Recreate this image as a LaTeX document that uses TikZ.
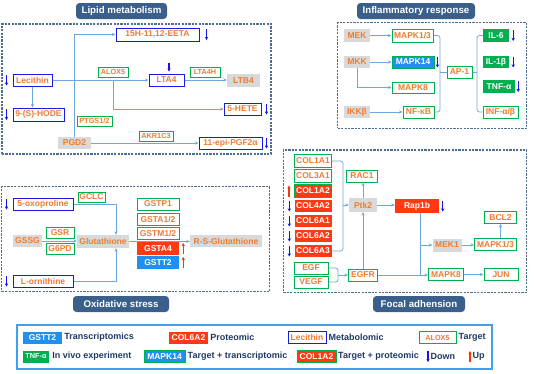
\documentclass[tikz,border=0pt]{standalone}
\usepackage{fontspec}
\setmainfont{Liberation Sans}
\usetikzlibrary{arrows.meta,calc}
\definecolor{orn}{HTML}{ED7D31}
\definecolor{grn}{HTML}{00B050}
\definecolor{blu}{HTML}{1A1AE6}
\definecolor{redf}{HTML}{FF3A12}
\definecolor{bluf}{HTML}{1E90F0}
\definecolor{gryf}{HTML}{D9D9D9}
\definecolor{ttlc}{HTML}{3A5F8A}
\definecolor{dashc}{HTML}{4E6E90}
\definecolor{conc}{HTML}{6FA8DC}
\definecolor{lgt}{HTML}{1F3864}
\definecolor{lgb}{HTML}{3DA0F0}
\definecolor{dnc}{HTML}{1414F0}
\definecolor{upc}{HTML}{FF3300}
\newcommand{\mynf}{\fontsize{8.5}{9}\selectfont\bfseries}
\newcommand{\mysmall}{\fontsize{7.3}{8}\selectfont\bfseries}
\newcommand{\myttl}{\fontsize{9.7}{10}\selectfont\bfseries}
\newcommand{\mylg}{\fontsize{9}{10}\selectfont\bfseries}
\tikzset{
  wh/.style 2 args={minimum width=#1pt,minimum height=#2pt},
  nd/.style={inner sep=0pt, font=\mynf, text=orn, align=center},
  tgt/.style={nd, draw=grn, line width=1pt, fill=white},
  met/.style={nd, draw=blu, line width=1pt, fill=white},
  gry/.style={nd, fill=gryf},
  prot/.style={nd, fill=redf, text=white},
  trn/.style={nd, fill=bluf, text=white},
  viv/.style={nd, fill=grn, text=white},
  tgtr/.style={prot, draw=grn, line width=1pt},
  tgtb/.style={trn, draw=grn, line width=1pt},
  ttlbox/.style={inner sep=0pt, fill=ttlc, text=white, font=\myttl, rounded corners=3.5pt},
  grp/.style={draw=dashc, line width=1.1pt, dash pattern=on 2.2pt off 1.2pt, inner sep=0pt},
  ln/.style={draw=conc, line width=0.8pt},
  con/.style={ln, -{Stealth[length=3.5pt,width=3.2pt]}},
  dnm/.style={draw=dnc, line width=1.1pt, -{Stealth[length=3.2pt,width=3.4pt]}},
  upm/.style={draw=upc, line width=1.1pt, -{Stealth[length=3.2pt,width=3.4pt]}},
  lgtxt/.style={inner sep=0pt, font=\mylg, text=lgt, anchor=west}
}
\begin{document}
\begin{tikzpicture}[x=1pt,y=-1pt]
\useasboundingbox (0,0) rectangle (536,373);

% ---------------- Lipid metabolism
\node[ttlbox, wh={91}{16}] (t1) at (121.5,11) {Lipid metabolism};
\node[grp, wh={269}{130}] (g1) at (136.5,89) {};
\node[met, wh={83}{13}] (eeta) at (157.5,34.5) {15H-11,12-EETA};
\node[met, wh={39}{12}] (lec) at (32.5,80) {Lecithin};
\node[tgt, font=\mysmall, wh={30}{10}] (alox5) at (113,72) {ALOX5};
\node[met, wh={35}{12}] (lta4) at (166.5,80) {LTA4};
\node[tgt, font=\mysmall, wh={30}{10}] (lta4h) at (205,72) {LTA4H};
\node[gry, wh={33}{13}] (ltb4) at (243.5,80.5) {LTB4};
\node[met, wh={51}{13}] (hode) at (38.5,114.5) {9-(S)-HODE};
\node[tgt, font=\mysmall, wh={35}{10}] (ptgs) at (94.5,121) {PTGS1/2};
\node[met, wh={37}{12}] (hete) at (242.5,109) {5-HETE};
\node[tgt, font=\mysmall, wh={34}{10}] (akr) at (156,136) {AKR1C3};
\node[gry, wh={33}{12}] (pgd2) at (74.5,143) {PGD2};
\node[met, wh={63}{12}] (pgf) at (230.5,143) {11-epi-PGF2α};

\draw[con] (pgd2.north) |- (eeta.west);
\draw[con] (lec.east) -- (lta4.west);
\draw[con] (lec.south) -- (lec.south |- hode.north);
\coordinate (lb) at (113,80);
\draw[con] (lb) |- (hete.west);
\draw[con] (lta4.east) -- (lta4.east -| ltb4.west);
\draw[con] (pgd2.east) -- (pgf.west);

\draw[dnm] ([xshift=7pt,yshift=5.5pt]eeta.east) -- ++(0,11);
\draw[dnm] ([xshift=-6pt,yshift=5.5pt]lec.west) -- ++(0,11);
\draw[dnm] ([xshift=-6pt,yshift=5.5pt]hode.west) -- ++(0,11);
\draw[dnm] ([xshift=2.5pt,yshift=11pt]lta4.north) -- ++(0,9);
\draw[dnm] ([xshift=5pt,yshift=5.5pt]hete.east) -- ++(0,11);
\draw[dnm] ([xshift=4pt,yshift=5.5pt]pgf.east) -- ++(0,11);

% ---------------- Inflammatory response
\node[ttlbox, wh={118}{16}] (t2) at (416,11) {Inflammatory response};
\node[grp, wh={189}{105.6}] (g2) at (432.2,75.5) {};
\node[gry, wh={26}{13}] (mek) at (357,35.5) {MEK};
\node[tgt, wh={41}{13}] (mapk13) at (412.5,35.5) {MAPK1/3};
\node[gry, wh={26}{12}] (mkk) at (357,62) {MKK};
\node[tgtb, wh={42}{12}] (mapk14) at (413,62) {MAPK14};
\node[tgt, wh={42}{11}] (mapk8) at (413,87.5) {MAPK8};
\node[gry, wh={26}{12}] (ikk) at (357,112) {IKKβ};
\node[tgt, wh={31}{12}] (nfkb) at (418.5,112) {NF-κB};
\node[tgt, wh={25}{12}] (ap1) at (459.5,72) {AP-1};
\node[viv, wh={26}{13}] (il6) at (496,35.5) {IL-6};
\node[viv, wh={26}{12}] (il1b) at (496,62) {IL-1β};
\node[viv, wh={32}{13}] (tnfa) at (499,86.5) {TNF-α};
\node[tgt, wh={35}{12}] (infab) at (500.5,112) {INF-α/β};

\draw[con] (mek.east) -- (mapk13.west);
\draw[con] (mkk.east) -- (mapk14.west);
\draw[con] (mkk.south) |- (mapk8.west);
\draw[con] (ikk.east) -- (nfkb.west);
\coordinate (b1) at (440,72);
\coordinate (b2) at (477,72);
\draw[ln, rounded corners=2.5pt] (mapk13.east) -| (b1) |- (nfkb.east);
\draw[ln] (b1) -- (ap1.west);
\draw[ln, rounded corners=2.5pt] (il6.west) -| (b2) |- (infab.west);
\draw[ln] (ap1.east) -- (b2);

\draw[dnm] ([xshift=3pt,yshift=5.5pt]mapk14.east) -- ++(0,11);
\draw[dnm] ([xshift=4pt,yshift=5.5pt]il6.east) -- ++(0,11);
\draw[dnm] ([xshift=4pt,yshift=5.5pt]il1b.east) -- ++(0,11);
\draw[dnm] ([xshift=3pt,yshift=5.5pt]tnfa.east) -- ++(0,11);

% ---------------- Oxidative stress
\node[ttlbox, wh={96}{16}] (t3) at (121,304) {Oxidative stress};
\node[grp, wh={267.6}{105}] (g3) at (135.5,239.2) {};
\node[met, wh={60}{12}] (oxo) at (43,204) {5-oxoproline};
\node[tgt, wh={27}{10}] (gclc) at (91.5,197) {GCLC};
\node[gry, wh={29}{12}] (gssg) at (27.5,241) {GSSG};
\node[tgt, wh={28}{11}] (gsr) at (60,232.5) {GSR};
\node[tgt, wh={28}{11}] (g6pd) at (60,248.5) {G6PD};
\node[gry, wh={52}{13}] (glu) at (103,241.5) {Glutathione};
\node[tgt, wh={42}{12}] (gstp1) at (158,204) {GSTP1};
\node[tgt, wh={42}{12}] (gsta12) at (158,219) {GSTA1/2};
\node[tgt, wh={42}{12}] (gstm12) at (158,233) {GSTM1/2};
\node[prot, wh={42}{13}] (gsta4) at (158,248.5) {GSTA4};
\node[trn, wh={42}{13}] (gstt2) at (158,262.5) {GSTT2};
\node[gry, wh={72}{12}] (rsg) at (226,241) {R-S-Glutathione};
\node[met, wh={60}{12}] (orn) at (43,281) {L-ornithine};

\coordinate (gx) at (116,0);
\draw[con] (oxo.east) -| (glu.north -| gx);
\draw[con] (orn.east) -| (glu.south -| gx);
\draw[con] (gssg.east) -- (gssg.east -| glu.west);
\draw[con] (glu.east) -- (glu.east -| rsg.west);

\draw[dnm] ([xshift=-6pt,yshift=5.5pt]oxo.west) -- ++(0,11);
\draw[dnm] ([xshift=-6pt,yshift=5.5pt]orn.west) -- ++(0,11);
\draw[upm] ([xshift=4pt,yshift=-5.5pt]gsta4.east) -- ++(0,-11);
\draw[upm] ([xshift=4pt,yshift=-5.5pt]gstt2.east) -- ++(0,-11);

% ---------------- Focal adhension
\node[ttlbox, wh={92}{16}] (t4) at (419,304) {Focal adhension};
\node[grp, wh={243.4}{142.7}] (g4) at (405,221.3) {};
\node[tgt, wh={37}{12.5}] (c1) at (313,161) {COL1A1};
\node[tgt, wh={37}{12.5}] (c2) at (313,176) {COL3A1};
\node[tgtr, wh={37}{12.5}] (c3) at (313,191) {COL1A2};
\node[prot, wh={37}{12.5}] (c4) at (313,206) {COL4A2};
\node[prot, wh={37}{12.5}] (c5) at (313,221) {COL6A1};
\node[prot, wh={37}{12.5}] (c6) at (313,236) {COL6A2};
\node[prot, wh={37}{12.5}] (c7) at (313,251) {COL6A3};
\node[tgt, wh={34}{12}] (egf) at (311,268) {EGF};
\node[tgt, wh={34}{12}] (vegf) at (311,282) {VEGF};
\node[gry, wh={28}{14}] (ptk2) at (363,205) {Ptk2};
\node[tgt, wh={31}{12}] (rac1) at (362,176) {RAC1};
\node[tgt, wh={29}{12}] (egfr) at (363,275) {EGFR};
\node[prot, wh={44}{14}] (rap1b) at (417,206) {Rap1b};
\node[gry, wh={29}{13}] (mek1) at (447,245) {MEK1};
\node[tgt, wh={42}{12}] (mapk13f) at (495.5,244.5) {MAPK1/3};
\node[tgt, wh={32}{12}] (bcl2) at (500.5,217.5) {BCL2};
\node[tgt, wh={35}{12}] (mapk8f) at (446,274.5) {MAPK8};
\node[tgt, wh={34}{12}] (jun) at (501,274.5) {JUN};

\coordinate (cb) at (343,205);
\draw[ln, rounded corners=2.5pt] (c1.east) -| (cb) |- (c7.east);
\draw[con] (cb) -- (ptk2.west);
\coordinate (eb) at (338,275);
\draw[ln, rounded corners=2.5pt] (egf.east) -| (eb) |- (vegf.east);
\draw[con] (eb) -- (egfr.west);
\draw[con] (egfr.north) -- (ptk2.south);
\draw[con] (ptk2.north) -- (ptk2.north |- rac1.south);
\draw[con] (ptk2.east) -- (ptk2.east -| rap1b.west);
\draw[con] (egfr.east) -- (egfr.east -| mapk8f.west);
\coordinate (rv) at (420,0);
\draw[ln] (rap1b.south -| rv) -- (rv |- mapk8f.west);
\draw[con] (rv |- mek1.west) -- (mek1.west);
\draw[con] (mek1.east) -- (mek1.east -| mapk13f.west);
\draw[con] (mapk13f.north -| bcl2.south) -- (bcl2.south);
\draw[con] (mapk8f.east) -- (jun.west);

\draw[upm] ([xshift=-5pt,yshift=-5.5pt]c3.west) -- ++(0,-11);
\draw[dnm] ([xshift=-5pt,yshift=5.5pt]c4.west) -- ++(0,11);
\draw[dnm] ([xshift=-5pt,yshift=5.5pt]c5.west) -- ++(0,11);
\draw[dnm] ([xshift=-5pt,yshift=5.5pt]c6.west) -- ++(0,11);
\draw[dnm] ([xshift=-5pt,yshift=5.5pt]c7.west) -- ++(0,11);
\draw[dnm] ([xshift=3.5pt,yshift=5.5pt]rap1b.east) -- ++(0,11);

% ---------------- Legend
\node[draw=lgb, line width=1.3pt, wh={475}{44}] (leg) at (254.5,347) {};
\node[trn, wh={39}{12}] (l1) at (42.5,337.5) {GSTT2};
\node[lgtxt] (l1t) at ([xshift=2pt]l1.east) {Transcriptomics};
\node[prot, wh={39}{12}] (l2) at (188.5,337.5) {COL6A2};
\node[lgtxt] (l2t) at ([xshift=2pt]l2.east) {Proteomic};
\node[met, wh={38}{12}] (l3) at (307,337.5) {Lecithin};
\node[lgtxt] (l3t) at ([xshift=2pt]l3.east) {Metabolomic};
\node[tgt, font=\mysmall, wh={37}{12}] (l4) at (437.5,337.5) {ALOX5};
\node[lgtxt] (l4t) at ([xshift=2pt]l4.east) {Target};
\node[viv, font=\mysmall, wh={26}{12}] (l5) at (36,356.5) {TNF-α};
\node[lgtxt] (l5t) at ([xshift=3pt]l5.east) {In vivo experiment};
\node[tgtb, wh={41}{12}] (l6) at (164.5,356.5) {MAPK14};
\node[lgtxt] (l6t) at ([xshift=2pt]l6.east) {Target + transcriptomic};
\node[tgtr, wh={39}{12}] (l7) at (316.5,356.5) {COL1A2};
\node[lgtxt] (l7t) at ([xshift=1.5pt]l7.east) {Target + proteomic};
\node[lgtxt] (ldn) at (430.5,356.5) {Down};
\draw[dnm] ([xshift=-2.5pt,yshift=5.5pt]ldn.west) -- ++(0,11);
\node[lgtxt] (lup) at (472.5,356.5) {Up};
\draw[upm] ([xshift=-2.5pt,yshift=-5.5pt]lup.west) -- ++(0,-11);
\end{tikzpicture}
\end{document}
